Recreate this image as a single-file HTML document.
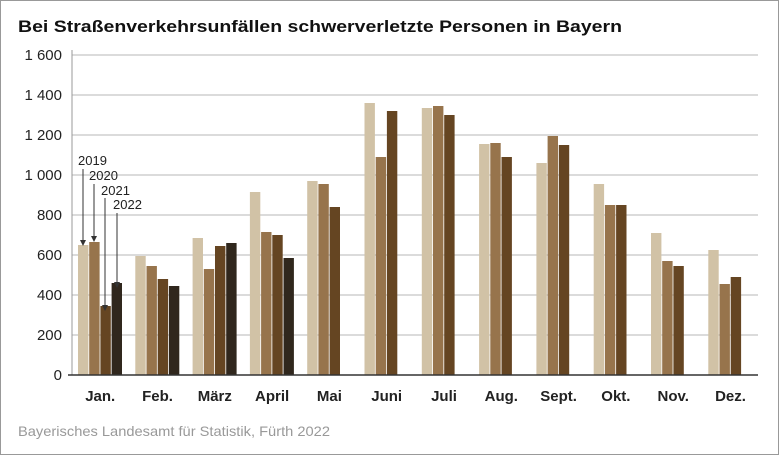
<!DOCTYPE html><html><head><meta charset="utf-8"><style>body{margin:0;background:#fff}svg{display:block}</style></head><body>
<svg width="779" height="455" xmlns="http://www.w3.org/2000/svg" font-family="Liberation Sans, sans-serif">
<rect x="0.5" y="0.5" width="778" height="454" fill="#fff" stroke="#999"/>
<text x="18" y="32" font-size="17" font-weight="bold" fill="#111" textLength="604" lengthAdjust="spacingAndGlyphs">Bei Straßenverkehrsunfällen schwerverletzte Personen in Bayern</text>
<g stroke="#cfcfcf" stroke-width="1.5">
<line x1="72" x2="758" y1="335" y2="335"/><line x1="72" x2="758" y1="295" y2="295"/><line x1="72" x2="758" y1="255" y2="255"/><line x1="72" x2="758" y1="215" y2="215"/><line x1="72" x2="758" y1="175" y2="175"/><line x1="72" x2="758" y1="135" y2="135"/><line x1="72" x2="758" y1="95" y2="95"/><line x1="72" x2="758" y1="55" y2="55"/>
</g>
<g font-size="15" fill="#222" text-anchor="end">
<text x="62" y="380">0</text><text x="62" y="340">200</text><text x="62" y="300">400</text><text x="62" y="260">600</text><text x="62" y="220">800</text><text x="62" y="180">1 000</text><text x="62" y="140">1 200</text><text x="62" y="100">1 400</text><text x="62" y="60">1 600</text>
</g>
<g id="bars"></g>
<line x1="72" x2="72" y1="50" y2="375" stroke="#999"/>
<line x1="68" x2="758" y1="375" y2="375" stroke="#333" stroke-width="1.5"/>
<g font-size="15" font-weight="bold" fill="#222" text-anchor="middle" id="months"></g>
<g font-size="13" fill="#222">
<text x="78" y="165">2019</text><text x="89" y="180">2020</text><text x="101" y="195">2021</text><text x="113" y="209">2022</text>
</g>
<g stroke="#333" stroke-width="1">
<line x1="83" y1="169" x2="83" y2="240"/><line x1="94" y1="184" x2="94" y2="236"/><line x1="105" y1="198" x2="105" y2="305"/><line x1="117" y1="213" x2="117" y2="282"/>
</g>
<g fill="#333">
<polygon points="80,240 86,240 83,246"/><polygon points="91,236 97,236 94,242"/><polygon points="102,305 108,305 105,311"/><polygon points="114,282 120,282 117,288"/>
</g>
<text x="18" y="436" font-size="14" fill="#999" textLength="312" lengthAdjust="spacingAndGlyphs">Bayerisches Landesamt für Statistik, Fürth 2022</text>
<script>
var d=[[650,665,345,460],[595,545,480,445],[685,530,645,660],[915,715,700,585],[970,955,840],[1360,1090,1320],[1335,1345,1300],[1155,1160,1090],[1060,1195,1150],[955,850,850],[710,570,545],[625,455,490]];
var m=["Jan.","Feb.","März","April","Mai","Juni","Juli","Aug.","Sept.","Okt.","Nov.","Dez."];
var c=["#d1c2a6","#97744c","#654522","#30271d"];
var g=document.getElementById("bars"),t=document.getElementById("months"),ns="http://www.w3.org/2000/svg";
d.forEach(function(a,i){var x0=78+i*57.3;a.forEach(function(v,j){var r=document.createElementNS(ns,"rect");var h=v*0.2;r.setAttribute("x",x0+j*11.2);r.setAttribute("y",375-h);r.setAttribute("width",10.4);r.setAttribute("height",h);r.setAttribute("fill",c[j]);g.appendChild(r);});
var s=document.createElementNS(ns,"text");s.setAttribute("x",x0+22.2);s.setAttribute("y",401);s.textContent=m[i];t.appendChild(s);});
</script>
</svg></body></html>
